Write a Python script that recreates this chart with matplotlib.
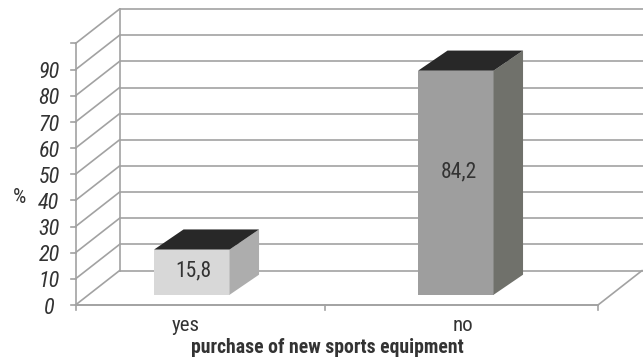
import matplotlib
matplotlib.use('Agg')
import numpy as np
import matplotlib.pyplot as plt
from matplotlib.patches import Polygon

# Data
categories = ['yes', 'no']
values = [15.8, 84.2]
value_labels = ['15,8', '84,2']
y_ticks = [0, 10, 20, 30, 40, 50, 60, 70, 80, 90]
y_top = 100

# Colours of the boxes: front, side, top
front_colors = ['#d8d8d8', '#9e9e9e']
side_colors = ['#adadad', '#70716b']
top_color = '#282828'
line_color = '#a2a2a2'
text_color = '#333333'

# Layout of the fake 3D scene
depth_x = 44.0
depth_y = 13.15
bar_lefts = [136.0, 400.0]
bar_width = 75.5
bar_d1 = 0.41
bar_dx = 29.5
bar_dy = 7.7
bar_base = -1.5
label_x = [193.0, 459.0]

plt.rcParams['font.family'] = ['Roboto Condensed', 'Archivo Narrow', 'Liberation Sans', 'DejaVu Sans']

fig = plt.figure(figsize=(6.43, 3.59), dpi=100)
ax = fig.add_axes([0, 0, 1, 1])
ax.set_xlim(0, 643)
ax.set_ylim(-20.65, 116.63)
ax.axis('off')


def project(x, v, d):
    # Point at x, value v, depth d (0 = front, 1 = back wall)
    return x + depth_x * d, v + depth_y * d


x0 = 75.5
x_mid = 325.0
x1 = 598.0
lw = 1.2

# Walls and grid
for v in y_ticks + [y_top]:
    px, py = project(x0, v, 1)
    ax.plot([x0, px], [v, py], color=line_color, lw=lw, zorder=1)
    ax.plot([px, 660], [py, py], color=line_color, lw=lw, zorder=1)
    ax.plot([x0 - 5, x0], [v, v], color=line_color, lw=lw, zorder=1)

bx, by = project(x0, 0, 1)
tx, ty = project(x0, y_top, 1)
ax.plot([bx, tx], [by, ty], color=line_color, lw=lw, zorder=1)
ax.plot([x0, x0], [-2, y_top], color=line_color, lw=lw, zorder=1)

# Floor front edge
ax.plot([x0, x1], [0, 0], color=line_color, lw=lw + 0.2, zorder=1)
for x in [x_mid, x1]:
    ax.plot([x, x], [0, -2], color=line_color, lw=lw, zorder=1)
rx, ry = project(x1, 0, 1)
ax.plot([x1, rx], [0, ry], color=line_color, lw=lw, zorder=1)

# Boxes
for i, val in enumerate(values):
    left = bar_lefts[i]
    right = left + bar_width
    fl = project(left, bar_base, bar_d1)
    fr = project(right, bar_base, bar_d1)
    tl = project(left, val, bar_d1)
    tr = project(right, val, bar_d1)
    bl2 = (tl[0] + bar_dx, tl[1] + bar_dy)
    br2 = (tr[0] + bar_dx, tr[1] + bar_dy)
    sb = (fr[0] + bar_dx, fr[1] + bar_dy)
    ax.add_patch(Polygon([fl, fr, tr, tl], closed=True, fc=front_colors[i], ec='none', zorder=3))
    ax.add_patch(Polygon([fr, sb, br2, tr], closed=True, fc=side_colors[i], ec='none', zorder=3))
    ax.add_patch(Polygon([tl, tr, br2, bl2], closed=True, fc=top_color, ec='none', zorder=3))
    ax.text(label_x[i], 4.3 + 0.553 * val, value_labels[i], ha='center', va='center',
            fontsize=15.5, color=text_color, zorder=4)

# Tick labels
for v in y_ticks:
    ax.text(49, v - 1.2, str(v), ha='center', va='center', fontsize=16,
            style='italic', color=text_color)

ax.text(186, -8, categories[0], ha='center', va='center', fontsize=15, color=text_color)
ax.text(462.7, -8, categories[1], ha='center', va='center', fontsize=15, color=text_color)
ax.text(327, -16.1, 'purchase of new sports equipment', ha='center', va='center',
        fontsize=14.2, fontweight='bold', color=text_color)
ax.text(19, 41.2, '%', ha='center', va='center', fontsize=15, color=text_color)

fig.savefig('out.png', dpi=100)
